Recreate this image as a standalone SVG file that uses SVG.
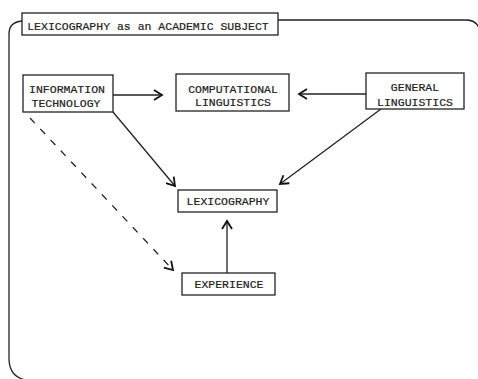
<svg xmlns="http://www.w3.org/2000/svg" width="478" height="379" viewBox="0 0 478 379">
<defs>
<marker id="ah" markerWidth="12" markerHeight="12" refX="10" refY="6" orient="auto" markerUnits="userSpaceOnUse">
<path d="M2,1 L10,6 L2,11" fill="none" stroke="#111" stroke-width="1.8"/>
</marker>
<style>
.box{fill:#fff;stroke:#222;stroke-width:1.3}
.t{font-family:"Liberation Mono","DejaVu Sans Mono",monospace;font-size:11.5px;fill:#222;stroke:#222;stroke-width:0.2;text-anchor:middle}
.c{fill:none;stroke:#222;stroke-width:1.3}
</style>
</defs>
<rect width="478" height="379" fill="#fff"/>
<g id="frame">
<path class="c" d="M278,20 L466,20 Q478,20 480,32"/>
<path class="c" d="M22,21 Q9,22 9,34 L9,358 Q9,377 26,380 L470,380"/>
<rect class="box" x="22" y="13" width="256" height="22"/>
<text class="t" x="148" y="30">LEXICOGRAPHY as an ACADEMIC SUBJECT</text>
</g>
<g id="connectors">
<line class="c" x1="113" y1="95" x2="162" y2="95" marker-end="url(#ah)"/>
<line class="c" x1="366" y1="94" x2="299" y2="94" marker-end="url(#ah)"/>
<line class="c" x1="113" y1="112" x2="175" y2="186" marker-end="url(#ah)"/>
<line class="c" x1="381" y1="109" x2="280" y2="184" marker-end="url(#ah)"/>
<line class="c" x1="227" y1="273" x2="227" y2="221" marker-end="url(#ah)"/>
<line class="c" x1="30" y1="118" x2="173" y2="270" stroke-dasharray="7,8" marker-end="url(#ah)"/>
</g>
<g id="it">
<rect class="box" x="23" y="75" width="90" height="37"/>
<text class="t" x="67" y="93">INFORMATION</text>
<text class="t" x="66" y="107">TECHNOLOGY</text>
</g>
<g id="cl">
<rect class="box" x="176" y="74" width="113" height="37"/>
<text class="t" x="233" y="93">COMPUTATIONAL</text>
<text class="t" x="233" y="106">LINGUISTICS</text>
</g>
<g id="gl">
<rect class="box" x="366" y="73" width="98" height="36"/>
<text class="t" x="415" y="91">GENERAL</text>
<text class="t" x="415" y="106">LINGUISTICS</text>
</g>
<g id="lex">
<rect class="box" x="178" y="190" width="99" height="22"/>
<text class="t" x="228" y="205">LEXICOGRAPHY</text>
</g>
<g id="exp">
<rect class="box" x="182" y="273" width="93" height="22"/>
<text class="t" x="229" y="288">EXPERIENCE</text>
</g>
</svg>
